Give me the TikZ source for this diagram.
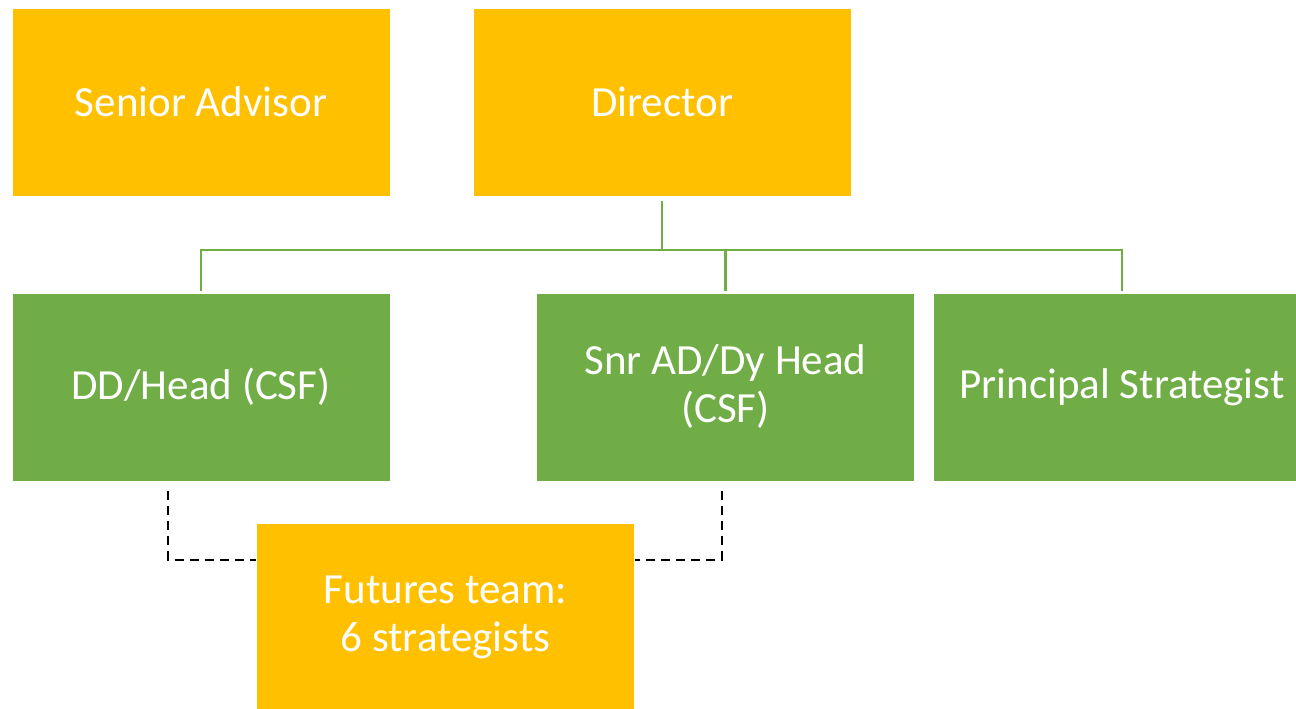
\documentclass[tikz,border=0pt]{standalone}
\usepackage{fontspec}
\setmainfont{Carlito}
\definecolor{yel}{HTML}{FFC000}
\definecolor{grn}{HTML}{70AD47}
\begin{document}
\begin{tikzpicture}[x=1pt,y=-1pt,
  box/.style={rectangle, draw=white, line width=0.6pt, minimum width=378pt, minimum height=188pt,
    inner sep=0pt, align=center, text=white, font=\fontsize{43}{48}\selectfont},
  ybox/.style={box, fill=yel},
  gbox/.style={box, fill=grn},
  gline/.style={draw=grn, line width=2.6pt},
  dline/.style={draw=black, line width=2.4pt, dash pattern=on 9pt off 6pt}]
\useasboundingbox (0,0) rectangle (1296,709);
\clip (0,0) rectangle (1296,709);
\node[ybox] (sa) at (201,102) {Senior Advisor};
\node[ybox] (dir) at (662,102) {Director};
\node[gbox] (dd) at (201,387) {DD/Head (CSF)};
\node[gbox] (snr) at (725.5,387) {Snr AD/Dy Head\\(CSF)};
\node[gbox] (ps) at (1122,387) {Principal Strategist};
\node[ybox] (fut) at (445.5,617) {Futures team:\\6 strategists};
\coordinate (bus) at (662,250);
\draw[gline] ([yshift=-5pt]dir.south) -- (bus);
\draw[gline] (bus) -| ([yshift=2pt]dd.north);
\draw[gline] (bus) -| ([yshift=2pt]snr.north);
\draw[gline] (bus) -| ([yshift=2pt]ps.north);
\draw[dline] ([xshift=-33pt,yshift=-10pt]dd.south) |- ([yshift=-37pt]fut.north west);
\draw[dline] ([xshift=-3.5pt,yshift=-10pt]snr.south) |- ([yshift=-37pt]fut.north east);
\end{tikzpicture}
\end{document}
